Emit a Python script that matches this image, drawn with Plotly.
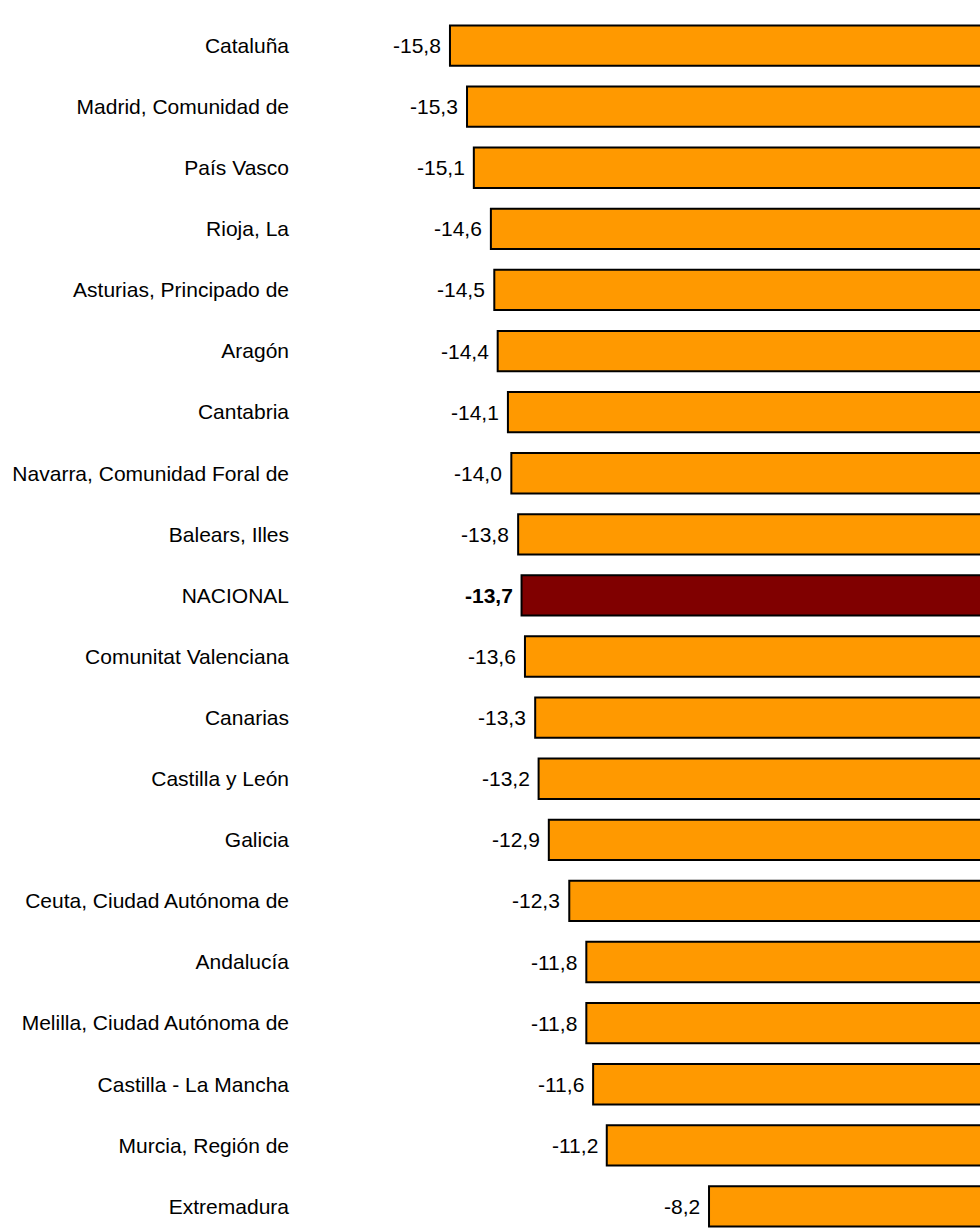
import plotly.graph_objects as go

regions = [
    "Cataluña", "Madrid, Comunidad de", "País Vasco", "Rioja, La",
    "Asturias, Principado de", "Aragón", "Cantabria",
    "Navarra, Comunidad Foral de", "Balears, Illes", "NACIONAL",
    "Comunitat Valenciana", "Canarias", "Castilla y León", "Galicia",
    "Ceuta, Ciudad Autónoma de", "Andalucía", "Melilla, Ciudad Autónoma de",
    "Castilla - La Mancha", "Murcia, Región de", "Extremadura",
]
values = [-15.8, -15.3, -15.1, -14.6, -14.5, -14.4, -14.1, -14.0, -13.8, -13.7,
          -13.6, -13.3, -13.2, -12.9, -12.3, -11.8, -11.8, -11.6, -11.2, -8.2]
highlight = "NACIONAL"

ORANGE = "#FF9900"
DARKRED = "#800000"
FONT = "Liberation Sans, Arial, sans-serif"

colors = [DARKRED if r == highlight else ORANGE for r in regions]

fig = go.Figure()
fig.add_trace(go.Bar(
    x=values, y=regions, orientation="h",
    marker=dict(color=colors, line=dict(color="black", width=2)),
    hoverinfo="skip",
))

annotations = []
for r, v in zip(regions, values):
    txt = f"{v:.1f}".replace(".", ",")
    if r == highlight:
        txt = f"<b>{txt}</b>"
    annotations.append(dict(
        x=v, y=r, xref="x", yref="y", text=txt, showarrow=False,
        xanchor="right", yanchor="middle", xshift=-7,
        font=dict(family=FONT, size=21, color="black"),
    ))

fig.update_layout(
    width=980, height=1230,
    margin=dict(l=300, r=0, t=15, b=0, pad=0),
    paper_bgcolor="white", plot_bgcolor="white",
    showlegend=False, bargap=0.34,
    font=dict(family=FONT, size=21, color="black"),
    annotations=annotations,
    xaxis=dict(range=[-20.20, -0.25], visible=False, showgrid=False, zeroline=False),
    yaxis=dict(
        type="category", categoryorder="array", categoryarray=regions,
        range=[19.386, -0.5], showgrid=False, zeroline=False, showline=False,
        ticks="", ticklabelstandoff=10, automargin=False,
        tickfont=dict(family=FONT, size=21, color="black"),
    ),
)

fig.write_html(
    "out.html",
    config={"displayModeBar": False},
    post_script="document.body.style.margin='0';document.body.style.overflow='hidden';",
)
